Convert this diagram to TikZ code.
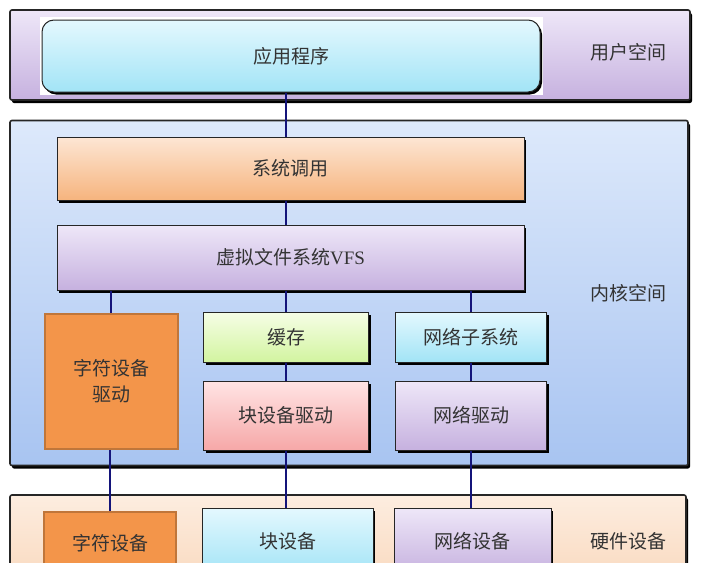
\documentclass[tikz,border=0pt]{standalone}
\usepackage{fontspec}
\setmainfont{Liberation Serif}
\newfontfamily\cjk{Noto Sans CJK SC}
\usetikzlibrary{positioning,shadows}
\definecolor{ink}{HTML}{333333}
\definecolor{wire}{HTML}{14147A}
\definecolor{lavtop}{HTML}{EEE7F8}
\definecolor{lavbot}{HTML}{C6B1DF}
\definecolor{cyantop}{HTML}{E4F8FE}
\definecolor{cyanbot}{HTML}{A2E4F6}
\definecolor{bluetop}{HTML}{DDE9FB}
\definecolor{bluebot}{HTML}{A8C4F1}
\definecolor{peachtop}{HTML}{FDE6D4}
\definecolor{peachbot}{HTML}{F6B47E}
\definecolor{greentop}{HTML}{F6FEE6}
\definecolor{greenbot}{HTML}{D2F4A0}
\definecolor{pinktop}{HTML}{FFE4E4}
\definecolor{pinkbot}{HTML}{F6A8A8}
\definecolor{hwtop}{HTML}{FDEDE0}
\definecolor{hwbot}{HTML}{F9D8BC}
\definecolor{orange}{HTML}{F3954A}
\definecolor{orangedeep}{HTML}{C0763A}
\tikzset{
  layer/.style={draw=black!85, line width=1.6pt, rounded corners=2pt, minimum width=#1, inner sep=0pt,
    drop shadow={shadow xshift=2pt, shadow yshift=-3pt, fill=black, opacity=1}},
  unit/.style={draw=black!85, line width=1pt, inner sep=0pt,
    font=\cjk\fontsize{19pt}{24pt}\selectfont, text=ink, align=center,
    drop shadow={shadow xshift=2pt, shadow yshift=-2.5pt, fill=black, opacity=1}},
  flat/.style={draw=orangedeep, line width=2pt, fill=orange, inner sep=0pt,
    font=\cjk\fontsize{19pt}{26pt}\selectfont, text=ink, align=center},
  tag/.style={font=\cjk\fontsize{19pt}{22pt}\selectfont, text=ink},
  wire/.style={draw=wire, line width=1.2pt},
}
\begin{document}
\begin{tikzpicture}[x=1pt, y=-1pt]
  \clip (0,0) rectangle (711,562);
  \fill[white] (0,0) rectangle (711,562);
  % user space
  \node[layer=680pt, minimum height=90pt, top color=lavtop, bottom color=lavbot] (user) at (350,55) {};
  \node[fill=white, minimum width=503pt, minimum height=78pt, inner sep=0pt] (appbg) at (291.5,56) {};
  \node[unit, rounded corners=12pt, minimum width=498pt, minimum height=72pt,
    top color=cyantop, bottom color=cyanbot] (app) at (291,56) {应用程序};
  \node[tag] (usertag) at (628,52) {用户空间};
  % kernel space
  \node[layer=678pt, minimum height=345pt, top color=bluetop, bottom color=bluebot] (kernel) at (349,293) {};
  \node[unit, minimum width=467pt, minimum height=63pt, top color=peachtop, bottom color=peachbot] (sys) at (290.5,168.5) {系统调用};
  \node[unit, minimum width=467pt, minimum height=65pt, top color=lavtop, bottom color=lavbot] (vfs) at (290.5,257.5) {虚拟文件系统\rmfamily VFS};
  \node[flat, minimum width=133pt, minimum height=135pt] (chardrv) at (111,381.5) {字符设备\\驱动};
  \node[unit, minimum width=165pt, minimum height=50pt, top color=greentop, bottom color=greenbot] (cache) at (286,337) {缓存};
  \node[unit, minimum width=151pt, minimum height=50pt, top color=cyantop, bottom color=cyanbot] (netsub) at (471,337) {网络子系统};
  \node[unit, minimum width=165pt, minimum height=69pt, top color=pinktop, bottom color=pinkbot, below=18pt of cache] (blkdrv) {块设备驱动};
  \node[unit, minimum width=151pt, minimum height=69pt, top color=lavtop, bottom color=lavbot, below=18pt of netsub] (netdrv) {网络驱动};
  \node[tag] (kerneltag) at (628,293) {内核空间};
  % hardware
  \node[layer=676pt, minimum height=95pt, top color=hwtop, bottom color=hwbot] (hw) at (348,542.5) {};
  \node[flat, minimum width=132pt, minimum height=62pt] (chardev) at (110,543) {字符设备};
  \node[unit, minimum width=171pt, minimum height=67pt, top color=cyantop, bottom color=cyanbot] (blkdev) at (287.5,541.5) {块设备};
  \node[unit, minimum width=157pt, minimum height=67pt, top color=lavtop, bottom color=lavbot] (netdev) at (472.5,541.5) {网络设备};
  \node[tag] (hwtag) at (628,541) {硬件设备};
  % connectors
  \draw[wire] (app.south -| cache) -- (sys.north -| cache);
  \draw[wire] (sys.south -| cache) -- (vfs.north -| cache);
  \draw[wire] (vfs.south -| chardrv) -- (chardrv.north);
  \draw[wire] (vfs.south -| cache) -- (cache.north);
  \draw[wire] (vfs.south -| netsub) -- (netsub.north);
  \draw[wire] (cache) -- (blkdrv);
  \draw[wire] (netsub) -- (netdrv);
  \draw[wire] (chardrv.south -| chardev) -- (chardev.north);
  \draw[wire] (blkdrv.south) -- (blkdev.north -| blkdrv);
  \draw[wire] (netdrv.south) -- (netdev.north -| netdrv);
\end{tikzpicture}
\end{document}
